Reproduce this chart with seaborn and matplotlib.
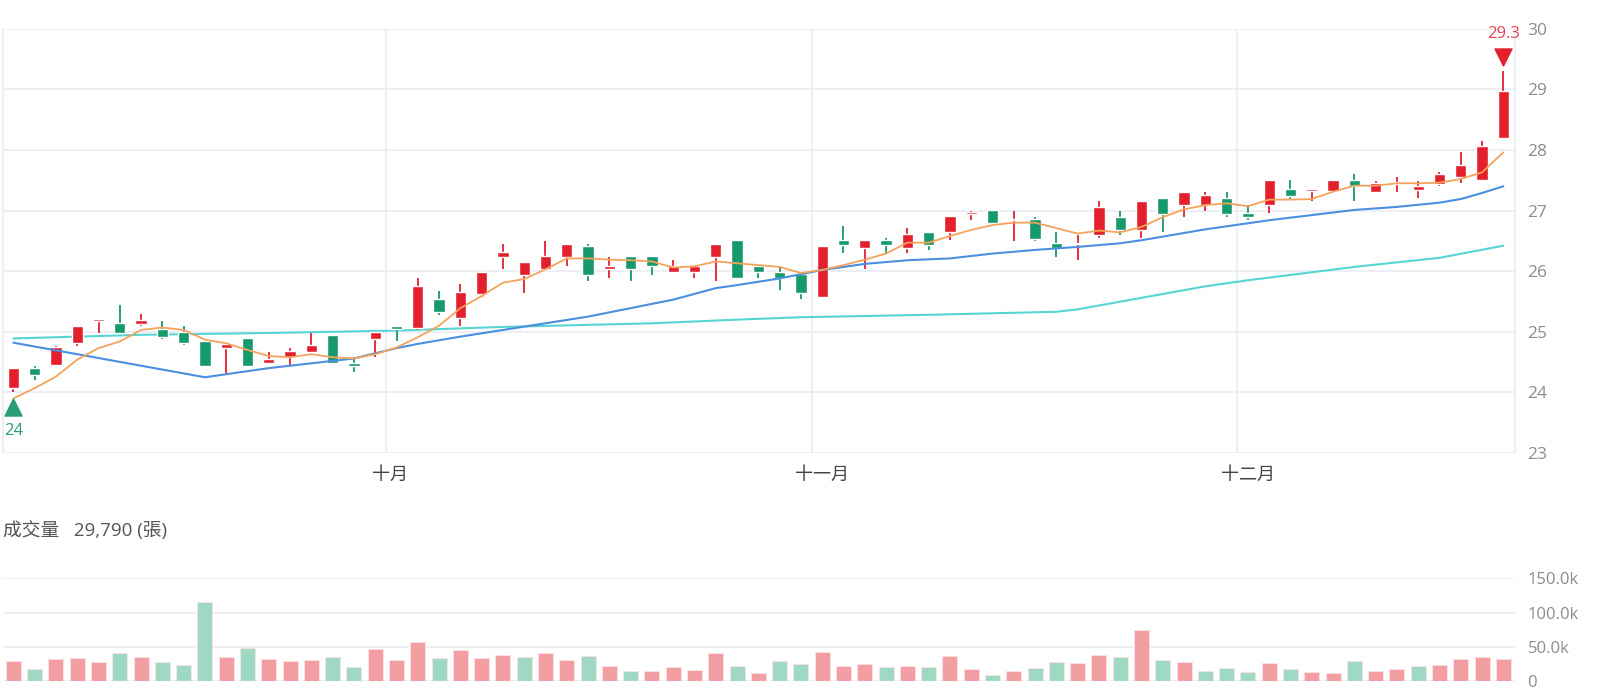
import numpy as np
import pandas as pd
import seaborn as sns
import matplotlib.pyplot as plt
from matplotlib.transforms import offset_copy

# daily candles (71 trading days)
opens = [24.07, 24.40, 24.45, 24.81, 25.18, 25.14, 25.13, 25.04, 25.00, 24.84,
         24.73, 24.89, 24.48, 24.58, 24.67, 24.95, 24.48, 24.88, 25.09, 25.06,
         25.54, 25.22, 25.63, 26.23, 25.94, 26.03, 26.23, 26.41, 26.04, 26.25,
         26.25, 25.98, 25.98, 26.24, 26.51, 26.09, 25.99, 25.95, 25.58, 26.51,
         26.38, 26.51, 26.38, 26.65, 26.64, 26.95, 27.01, 26.84, 26.86, 26.46,
         26.44, 26.59, 26.90, 26.68, 27.20, 27.09, 27.09, 27.20, 26.96, 27.09,
         27.35, 27.33, 27.33, 27.51, 27.30, 27.44, 27.34, 27.44, 27.55, 27.50,
         28.19]
highs = [24.40, 24.44, 24.77, 25.10, 25.21, 25.44, 25.29, 25.18, 25.09, 24.84,
         24.80, 24.89, 24.67, 24.73, 24.98, 24.95, 24.58, 24.99, 25.10, 25.88,
         25.68, 25.79, 25.99, 26.45, 26.15, 26.50, 26.45, 26.45, 26.23, 26.25,
         26.25, 26.19, 26.09, 26.45, 26.51, 26.09, 26.08, 25.95, 26.41, 26.75,
         26.51, 26.54, 26.71, 26.65, 26.91, 27.00, 27.01, 27.00, 26.89, 26.64,
         26.60, 27.15, 27.00, 27.15, 27.20, 27.30, 27.30, 27.30, 27.09, 27.51,
         27.50, 27.35, 27.51, 27.61, 27.49, 27.55, 27.49, 27.64, 27.96, 28.15,
         29.30]
lows = [24.00, 24.21, 24.43, 24.77, 24.98, 24.98, 25.09, 24.88, 24.78, 24.42,
        24.29, 24.43, 24.48, 24.43, 24.67, 24.48, 24.33, 24.58, 24.84, 25.03,
        25.28, 25.09, 25.58, 26.03, 25.64, 26.03, 26.09, 25.83, 25.88, 25.83,
        25.94, 25.98, 25.88, 25.83, 25.88, 25.88, 25.69, 25.54, 25.58, 26.30,
        26.03, 26.30, 26.30, 26.35, 26.51, 26.85, 26.79, 26.50, 26.50, 26.23,
        26.19, 26.54, 26.60, 26.54, 26.64, 26.90, 27.00, 26.90, 26.85, 26.96,
        27.18, 27.15, 27.30, 27.15, 27.29, 27.30, 27.20, 27.40, 27.45, 27.50,
        28.19]
closes = [24.40, 24.29, 24.75, 25.10, 25.20, 24.98, 25.20, 24.91, 24.82, 24.43,
          24.80, 24.43, 24.55, 24.69, 24.78, 24.48, 24.44, 24.99, 25.04, 25.75,
          25.32, 25.65, 25.99, 26.31, 26.15, 26.25, 26.45, 25.94, 26.09, 26.03,
          26.09, 26.09, 26.09, 26.45, 25.88, 25.98, 25.88, 25.64, 26.41, 26.43,
          26.51, 26.43, 26.61, 26.43, 26.91, 26.97, 26.79, 26.86, 26.53, 26.38,
          26.46, 27.06, 26.68, 27.15, 26.95, 27.30, 27.26, 26.95, 26.89, 27.51,
          27.24, 27.35, 27.51, 27.40, 27.45, 27.46, 27.41, 27.61, 27.75, 28.06,
          28.97]

# volume in thousands of 張, and whether close rose vs previous close
volumes_k = [29.7, 18.0, 32.1, 33.1, 28.2, 40.9, 35.6, 27.8, 22.9, 114.9,
             35.6, 48.7, 32.1, 28.7, 30.2, 34.6, 20.0, 47.2, 30.7, 56.5,
             33.1, 45.3, 33.6, 38.0, 35.6, 40.9, 31.2, 36.0, 22.4, 14.1,
             14.1, 20.0, 16.1, 40.4, 21.9, 11.7, 29.2, 24.4, 42.4, 22.4,
             24.8, 20.5, 22.4, 20.0, 36.0, 18.0, 9.3, 15.1, 18.5, 28.2,
             26.3, 38.0, 34.6, 74.0, 30.2, 27.3, 14.6, 18.5, 13.1, 25.8,
             17.5, 13.6, 12.2, 29.2, 15.1, 17.5, 21.9, 22.9, 31.7, 35.1,
             32.0]
vol_up = [1, 0, 1, 1, 1, 0, 1, 0, 0, 0, 1, 0, 1, 1, 1, 0, 0, 1, 1, 1,
          0, 1, 1, 1, 0, 1, 1, 0, 1, 0, 1, 1, 1, 1, 0, 1, 0, 0, 1, 1,
          1, 0, 1, 0, 1, 1, 0, 1, 0, 0, 1, 1, 0, 1, 0, 1, 0, 0, 0, 1,
          0, 1, 1, 0, 1, 1, 0, 1, 1, 1, 1]

# moving averages as drawn
ma5 = [23.90, 24.07, 24.26, 24.54, 24.73, 24.84, 25.03, 25.07, 25.03, 24.87,
       24.81, 24.70, 24.60, 24.58, 24.63, 24.58, 24.56, 24.63, 24.74, 24.91,
       25.10, 25.39, 25.59, 25.81, 25.87, 26.03, 26.21, 26.21, 26.19, 26.18,
       26.16, 26.06, 26.08, 26.16, 26.13, 26.10, 26.07, 25.97, 26.02, 26.10,
       26.19, 26.29, 26.47, 26.47, 26.58, 26.68, 26.76, 26.80, 26.80, 26.71,
       26.62, 26.67, 26.64, 26.73, 26.89, 27.02, 27.09, 27.12, 27.07, 27.18,
       27.18, 27.19, 27.31, 27.41, 27.41, 27.45, 27.45, 27.46, 27.52, 27.63,
       27.96]
ma20_idx = [0, 9, 12, 14, 16, 18, 19, 21, 23, 25, 27, 29, 31, 33, 34, 36, 38,
            40, 42, 44, 46, 48, 50, 52, 53, 55, 56, 59, 63, 65, 67, 68, 69, 70]
ma20 = [24.82, 24.25, 24.40, 24.48, 24.56, 24.73, 24.80, 24.92, 25.03, 25.14,
        25.25, 25.39, 25.53, 25.72, 25.77, 25.88, 26.02, 26.12, 26.18, 26.21,
        26.29, 26.35, 26.40, 26.46, 26.51, 26.63, 26.69, 26.84, 27.01, 27.06,
        27.13, 27.19, 27.29, 27.40]
ma60_idx = [0, 6, 12, 18, 23, 30, 34, 37, 43, 49, 50, 56, 58, 63, 67, 70]
ma60 = [24.89, 24.95, 24.98, 25.02, 25.08, 25.14, 25.20, 25.24, 25.28, 25.33,
        25.37, 25.75, 25.85, 26.07, 26.22, 26.42]

month_grid = [17.5, 37.5, 57.5]
month_label_pos = [17.7, 38, 58]
month_labels = ['十月', '十一月', '十二月']
price_ticks = [23, 24, 25, 26, 27, 28, 29, 30]
vol_ticks = [0, 50000, 100000, 150000]
vol_tick_labels = ['0', '50.0k', '100.0k', '150.0k']
last_volume_text = '29,790'

RED, GREEN = '#e3202c', '#16996b'
GRID = '#e9ebf4'

sns.set_theme(style='white')
plt.rcParams['font.family'] = ['Open Sans', 'Noto Sans CJK TC', 'DejaVu Sans']

n = len(closes)
x = np.arange(n)
df = pd.DataFrame({'x': x, 'open': opens, 'high': highs, 'low': lows,
                   'close': closes, 'ma5': ma5,
                   'vol': np.array(volumes_k) * 1000,
                   'dir': np.where(np.array(vol_up) == 1, 'up', 'down')})
up = df['close'] >= df['open']
colors = np.where(up, RED, GREEN)

fig = plt.figure(figsize=(15.99, 6.93), dpi=100)
ax = fig.add_axes([0.0021, 0.3463, 0.9454, 0.6123])
axv = fig.add_axes([0.0021, 0.0173, 0.9454, 0.1482])
xlim = (-0.47, n - 1 + 0.55)

# price panel
for p in price_ticks:
    ax.axhline(p, color=GRID, lw=1.1, zorder=0)
for m in month_grid:
    ax.axvline(m, color=GRID, lw=1.1, zorder=0)

ax.vlines(df['x'], df['low'], df['high'], colors=colors, lw=1.3, zorder=2)
body = (df['close'] - df['open']).abs().clip(lower=0.025)
ax.bar(df['x'], body, bottom=df[['open', 'close']].min(axis=1),
       width=0.53, color=colors, zorder=3)

sns.lineplot(x=ma60_idx, y=ma60, ax=ax, color='#55d6d3', lw=1.5, zorder=1)
sns.lineplot(x=ma20_idx, y=ma20, ax=ax, color='#4a8fe0', lw=1.5, zorder=4)
sns.lineplot(data=df, x='x', y='ma5', ax=ax, color='#f5a35c', lw=1.3, zorder=5)

imax = int(np.argmax(highs))
imin = int(np.argmin(lows))
ax.scatter([imax], [highs[imax]], marker='v', s=150, color=RED, zorder=6,
           transform=offset_copy(ax.transData, fig, y=10.5, units='points'))
ax.annotate(f'{highs[imax]:g}', (imax, highs[imax]), xytext=(0, 27),
            textcoords='offset points', ha='center', va='center',
            color='#e8414b', fontsize=12)
ax.scatter([imin], [lows[imin]], marker='^', s=150, color='#2a9d74', zorder=6,
           transform=offset_copy(ax.transData, fig, y=-10.5, units='points'))
ax.annotate(f'{lows[imin]:g}', (imin, lows[imin]), xytext=(0, -28),
            textcoords='offset points', ha='center', va='center',
            color='#2a9d74', fontsize=12)

ax.set_xlim(xlim)
ax.set_ylim(23, 30)
ax.set_yticks(price_ticks)
ax.yaxis.tick_right()
ax.set_xticks(month_label_pos)
ax.set_xticklabels(month_labels)
ax.tick_params(axis='y', length=0, pad=9, labelsize=12.5, labelcolor='#8c8c8c')
ax.tick_params(axis='x', length=0, pad=9, labelsize=13, labelcolor='#444444')
ax.set_xlabel('')
ax.set_ylabel('')
for side in ['top', 'bottom']:
    ax.spines[side].set_visible(False)
for side in ['left', 'right']:
    ax.spines[side].set_color(GRID)
    ax.spines[side].set_linewidth(1.1)

# volume panel
for v in vol_ticks:
    axv.axhline(v, color=GRID, lw=1.1, zorder=0)
sns.barplot(data=df, x='x', y='vol', hue='dir', native_scale=True,
            palette={'up': '#f39ea3', 'down': '#9fd8c3'}, dodge=False,
            saturation=1, width=0.7, legend=False, ax=axv,
            edgecolor='#fbe3e4', linewidth=0.6, zorder=2)
axv.set_xlim(xlim)
axv.set_ylim(0, 150000)
axv.set_yticks(vol_ticks)
axv.set_yticklabels(vol_tick_labels)
axv.yaxis.tick_right()
axv.set_xticks([])
axv.tick_params(axis='y', length=0, pad=9, labelsize=12, labelcolor='#8c8c8c')
axv.set_xlabel('')
axv.set_ylabel('')
sns.despine(ax=axv, left=True, bottom=True, right=True, top=True)

fig.text(0.002, 0.235, f'成交量   {last_volume_text} (張)', fontsize=13.5,
         color='#555555', va='center', ha='left')

fig.savefig('out.png', dpi=100, facecolor='white')
